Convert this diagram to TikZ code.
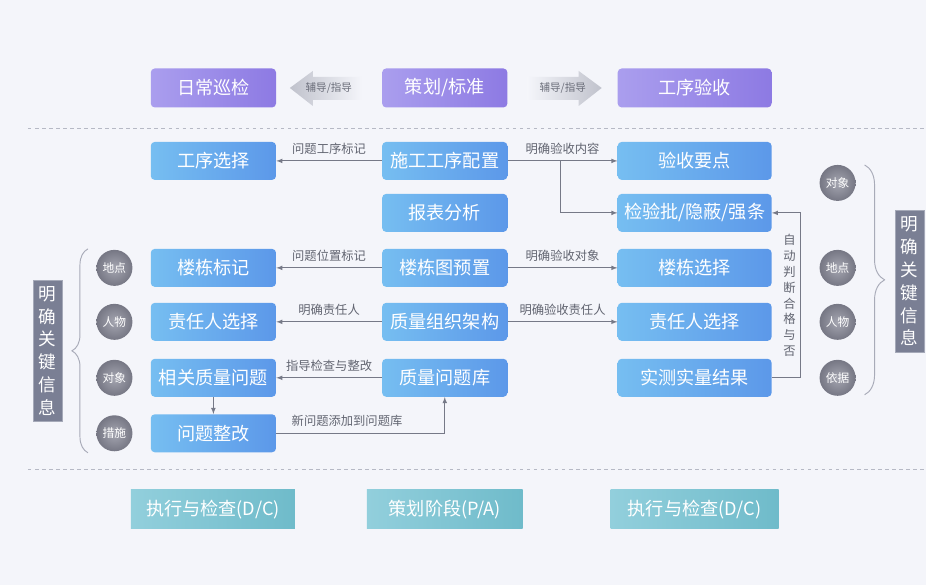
\documentclass[tikz,border=0pt]{standalone}
\usepackage{fontspec}
\setmainfont{Noto Sans CJK SC}
\usetikzlibrary{decorations.pathreplacing}

\newcommand{\boxfont}{\fontsize{15.5}{18}\selectfont}
\newcommand{\lblfont}{\fontsize{10.5}{12}\selectfont}

\tikzset{
  box/.style={rounded corners=0.12cm, minimum height=1.14cm, inner sep=0pt,
    text=white, font=\boxfont},
  purplebox/.style={box, minimum height=1.17cm, left color=purpL, right color=purpR},
  bluebox/.style={box, left color=blueL, right color=blueR},
  narrow/.style={minimum width=3.76cm},
  wide/.style={minimum width=4.62cm},
  tealbox/.style={minimum height=1.17cm, inner sep=0pt, left color=tealL,
    right color=tealR, text=white, font=\boxfont},
  keydot/.style={circle, minimum size=1.08cm, inner sep=0pt, inner color=dotL,
    outer color=dotD, text=white, font=\fontsize{10}{10}\selectfont},
  keybar/.style={fill=barcol, draw=barline, text=white, minimum width=0.86cm,
    minimum height=4.24cm, inner sep=0pt, align=center,
    font=\fontsize{15}{19.5}\selectfont},
  conn/.style={draw=conncol, line width=0.8pt, -latex},
  lbl/.style={text=lblcol, font=\lblfont, above=3pt, inner sep=2pt},
  guide/.style={text=guidecol, font=\fontsize{9}{9}\selectfont, inner sep=0pt},
  sep/.style={draw=sepcol, line width=0.8pt, dash pattern=on 3pt off 3pt},
  brc/.style={draw=brccol, line width=0.8pt, decorate}
}

\begin{document}
\begin{tikzpicture}[x=0.03cm, y=-0.03cm]

\definecolor{bgcol}{RGB}{244,245,250}
\definecolor{purpL}{RGB}{170,158,238}
\definecolor{purpR}{RGB}{141,122,227}
\definecolor{blueL}{RGB}{118,190,241}
\definecolor{blueR}{RGB}{92,152,233}
\definecolor{tealL}{RGB}{146,207,220}
\definecolor{tealR}{RGB}{111,187,202}
\definecolor{dotL}{RGB}{165,166,177}
\definecolor{dotD}{RGB}{118,119,132}
\definecolor{barcol}{RGB}{122,127,148}
\definecolor{barline}{RGB}{165,169,184}
\definecolor{conncol}{RGB}{118,121,135}
\definecolor{lblcol}{RGB}{98,101,113}
\definecolor{guidecol}{RGB}{105,108,120}
\definecolor{arwcol}{RGB}{192,194,204}
\definecolor{sepcol}{RGB}{182,185,197}
\definecolor{brccol}{RGB}{168,171,184}

\fill[bgcol] (0,0) rectangle (926,585);

% phases
\node[purplebox, narrow] (daily) at (213.5,88) {日常巡检};
\node[purplebox, narrow] (plan) at (445,88) {策划/标准};
\node[purplebox, wide] (accept) at (695,88) {工序验收};

\shade[left color=arwcol, right color=bgcol] (290,88) -- (313,71) -- (313,77)
  -- (362,77) -- (362,100) -- (313,100) -- (313,106) -- cycle;
\shade[left color=bgcol, right color=arwcol] (602,88) -- (579,71) -- (579,77)
  -- (528,77) -- (528,100) -- (579,100) -- (579,106) -- cycle;
\node[guide] (guideL) at (329,88) {辅导/指导};
\node[guide] (guideR) at (563,88) {辅导/指导};

\draw[sep] (28,129) -- (926,129);
\draw[sep] (28,470) -- (926,470);

% left column
\node[bluebox, narrow] (procsel) at (213.5,161) {工序选择};
\node[bluebox, narrow] (bldmark) at (213.5,268) {楼栋标记};
\node[bluebox, narrow] (respL) at (213.5,322) {责任人选择};
\node[bluebox, narrow] (relissue) at (213.5,378) {相关质量问题};
\node[bluebox, narrow] (rectify) at (213.5,433.5) {问题整改};

% middle column
\node[bluebox, narrow] (procconf) at (445,161) {施工工序配置};
\node[bluebox, narrow] (report) at (445,213) {报表分析};
\node[bluebox, narrow] (bldpre) at (445,268) {楼栋图预置};
\node[bluebox, narrow] (orgchart) at (445,322) {质量组织架构};
\node[bluebox, narrow] (issuelib) at (445,378) {质量问题库};

% right column
\node[bluebox, wide] (keypts) at (695,161) {验收要点};
\node[bluebox, wide] (batch) at (695,213) {检验批/隐蔽/强条};
\node[bluebox, wide] (bldsel) at (695,268) {楼栋选择};
\node[bluebox, wide] (respR) at (695,322) {责任人选择};
\node[bluebox, wide] (measure) at (695,378) {实测实量结果};

\draw[conn] (procconf) -- node[lbl] {问题工序标记} (procsel);
\draw[conn] (procconf) -- node[lbl] {明确验收内容} (keypts);
\coordinate (fork) at (561,161);
\draw[conn] (fork) |- (batch.west);
\draw[conn] (bldpre) -- node[lbl] {问题位置标记} (bldmark);
\draw[conn] (bldpre) -- node[lbl] {明确验收对象} (bldsel);
\draw[conn] (orgchart) -- node[lbl] {明确责任人} (respL);
\draw[conn] (orgchart) -- node[lbl] {明确验收责任人} (respR);
\draw[conn] (issuelib) -- node[lbl] {指导检查与整改} (relissue);
\draw[conn] (relissue) -- (rectify);
\draw[conn] (rectify.east) -- node[lbl, pos=0.42] {新问题添加到问题库}
  (rectify.east -| issuelib.south) -- (issuelib.south);
\draw[conn] (measure.east) -- ++(29,0) coordinate (loop)
  -- node[left=4pt, inner sep=0pt, text=lblcol, align=center,
     font=\fontsize{10.5}{13.6}\selectfont] {自\\动\\判\\断\\合\\格\\与\\否}
  (loop |- batch.east) -- (batch.east);

% key information
\node[keydot] (siteL) at (114.5,268) {地点};
\node[keydot] (personL) at (114.5,322) {人物};
\node[keydot] (objL) at (114.5,378) {对象};
\node[keydot] (measL) at (114.5,433.5) {措施};
\draw[brc, decoration={brace, amplitude=0.48cm}] (88,453) -- (88,249);
\node[keybar] (keyL) at (47.5,351) {明\\确\\关\\键\\信\\息};

\node[keydot] (objR) at (838,183) {对象};
\node[keydot] (siteR) at (838,268) {地点};
\node[keydot] (personR) at (838,322) {人物};
\node[keydot] (basisR) at (838,378) {依据};
\draw[brc, decoration={brace, amplitude=0.6cm}] (865,165) -- (865,395);
\node[keybar] (keyR) at (910,281.5) {明\\确\\关\\键\\信\\息};

% stages
\node[tealbox, minimum width=4.92cm] (doL) at (213,509.5) {执行与检查(D/C)};
\node[tealbox, minimum width=4.68cm] (planst) at (445,509.5) {策划阶段(P/A)};
\node[tealbox, minimum width=5.04cm] (doR) at (695,509.5) {执行与检查(D/C)};

\end{tikzpicture}
\end{document}
